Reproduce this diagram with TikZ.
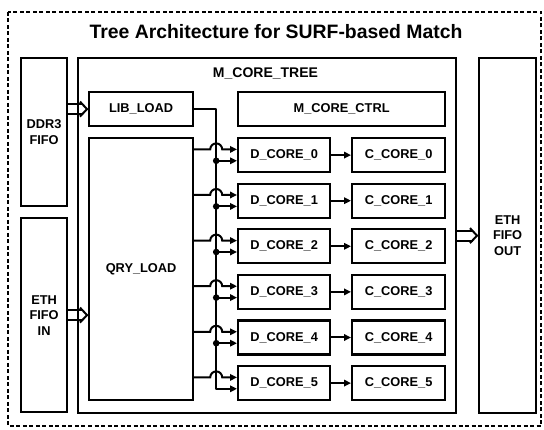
\documentclass[tikz,border=0pt]{standalone}
\usepackage{fontspec}
\setmainfont{Liberation Sans}
\usetikzlibrary{arrows.meta}

\tikzset{
  blk/.style={draw, line width=2.2pt, inner sep=0pt, anchor=north west,
    align=center, font=\fontsize{12.8}{15.5}\selectfont\bfseries},
  wire/.style={line width=2pt},
  tip/.style={-{Triangle[length=7pt,width=6.5pt]}},
}

% wide (hollow) data path between two points at the same height
\newcommand\fatarrow[2]{%
  \draw[wire] ([yshift=5pt]#1) -- ([xshift=-5pt,yshift=5pt]#2);
  \draw[wire] ([yshift=-5pt]#1) -- ([xshift=-5pt,yshift=-5pt]#2);
  \draw[wire, line join=miter, miter limit=3]
    ([xshift=-8pt,yshift=7.5pt]#2) -- ([xshift=-1pt]#2) -- ([xshift=-8pt,yshift=-7.5pt]#2);
}

\begin{document}
\begin{tikzpicture}[x=1pt,y=1pt]
\useasboundingbox (0,0) rectangle (544,-430);

% outer dashed frame and title
\draw[line width=2pt, dash pattern=on 4pt off 2.5pt] (8,-12) rectangle (541,-426);
\node[font=\fontsize{19.4}{22}\selectfont\bfseries] (title) at (276,-32)
  {Tree Architecture for SURF-based Match};

% side FIFOs
\node[blk, minimum width=46pt, minimum height=148pt] (ddr) at (20,-57) {DDR3\\FIFO};
\node[blk, minimum width=46pt, minimum height=194pt] (ethin) at (20,-217) {ETH\\FIFO\\IN};
\node[blk, minimum width=57pt, minimum height=355pt] (ethout) at (478,-57) {ETH\\FIFO\\OUT};

% core tree container
\node[blk, minimum width=378pt, minimum height=355pt] (tree) at (77,-57) {};
\node[font=\fontsize{14}{16}\selectfont\bfseries] (treelbl) at (265.5,-73) {M\_CORE\_TREE};

% loaders and controller
\node[blk, minimum width=104pt, minimum height=34pt] (lib) at (88,-91) {LIB\_LOAD};
\node[blk, minimum width=207pt, minimum height=34pt] (ctrl) at (237,-91) {M\_CORE\_CTRL};
\node[blk, minimum width=104pt, minimum height=262pt] (qry) at (88,-137) {QRY\_LOAD};

% D/C core pairs
\foreach \i in {0,...,5} {
  \pgfmathsetmacro{\yt}{-137-45.6*\i}
  \node[blk, minimum width=92pt, minimum height=34pt] (d\i) at (237,\yt) {D\_CORE\_\i};
  \node[blk, minimum width=93pt, minimum height=34pt] (c\i) at (351,\yt) {C\_CORE\_\i};
  \draw[wire,tip] (d\i.east) -- (c\i.west);
  \coordinate (up\i) at ([yshift=5.7pt]d\i.west);
  \coordinate (lo\i) at ([yshift=-5.7pt]d\i.west);
}

% LIB_LOAD broadcast bus
\coordinate (bus) at ([xshift=22pt]lib.east);
\draw[wire,tip,line join=round] (lib.east) -- (bus) -- (bus |- lo5) -- (lo5);
\foreach \i in {0,...,4} {
  \fill (bus |- lo\i) circle (3.3pt);
  \draw[wire,tip] (bus |- lo\i) -- (lo\i);
}

% QRY_LOAD outputs hopping over the bus
\foreach \i in {0,...,5} {
  \draw[wire,tip] (qry.east |- up\i) -- ([xshift=-6pt]bus |- up\i)
    arc[start angle=180, end angle=0, radius=6pt] -- (up\i);
}

% wide data paths
\coordinate (ddrout) at (ddr.east |- lib.west);
\coordinate (qryin) at (qry.west |- ethin.east);
\coordinate (outin) at (ethout.west |- tree.east);
\fatarrow{ddrout}{lib.west}
\fatarrow{ethin.east}{qryin}
\fatarrow{tree.east}{outin}
\end{tikzpicture}
\end{document}
